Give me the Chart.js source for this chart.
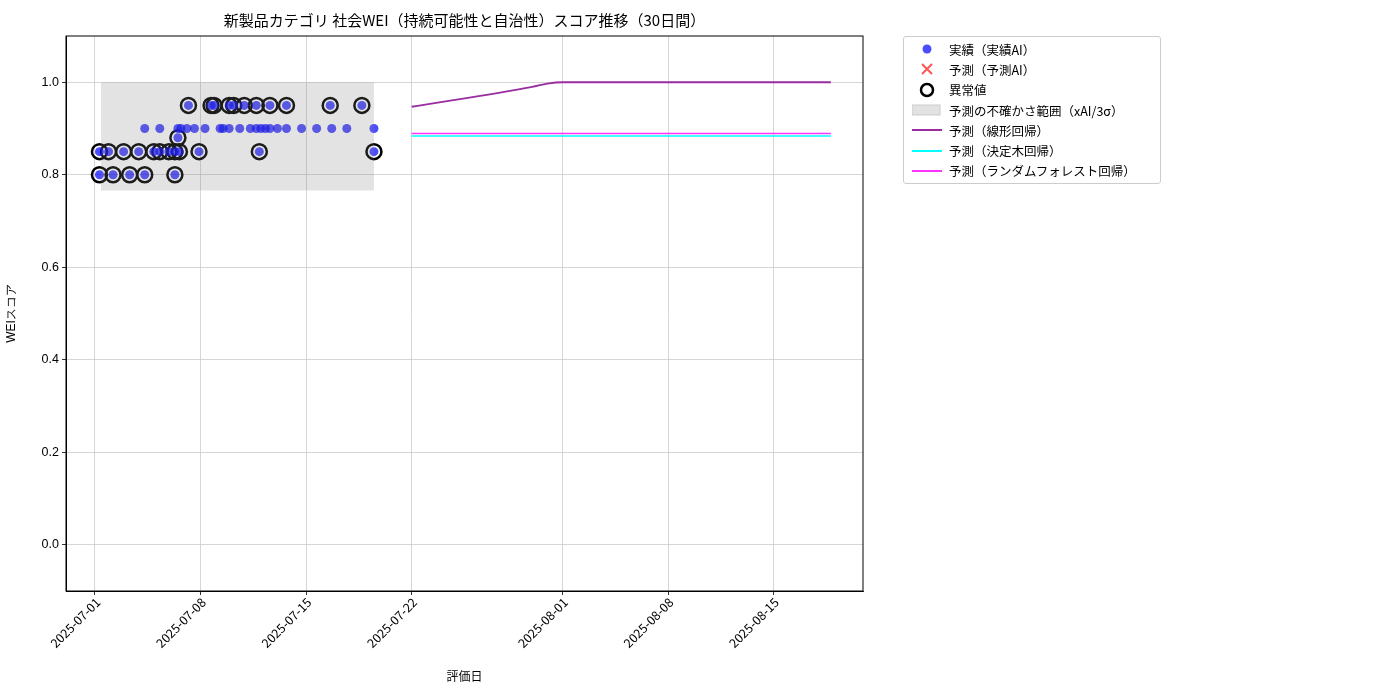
<!DOCTYPE html><html><head><meta charset="utf-8">
<script src="https://cdn.jsdelivr.net/npm/chart.js@4"></script>
<style>body{margin:0;width:1400px;height:700px;position:relative;font-family:"Noto Sans CJK JP",sans-serif;background:#fff}
#t{position:absolute;top:9px;left:66px;width:797px;text-align:center;font-size:15px}
#lg{position:absolute;left:903px;top:36px;width:256px;border:1px solid #ccc;border-radius:3px;font-size:12.5px;padding:2px 0}
#lg div{height:20.3px;display:flex;align-items:center}#lg span.s{width:45px;display:inline-flex;justify-content:center;margin-right:0px}
</style></head><body>
<canvas id="c" width="1400" height="700"></canvas>
<div id="t">新製品カテゴリ 社会WEI（持続可能性と自治性）スコア推移（30日間）</div>
<div id="lg">
<div><span class="s"><svg width="12" height="12"><circle cx="6" cy="6" r="4.5" fill="rgba(0,0,255,0.7)"/></svg></span>実績（実績AI）</div>
<div><span class="s"><svg width="14" height="14"><path d="M2 2L12 12M12 2L2 12" stroke="#f55" stroke-width="2"/></svg></span>予測（予測AI）</div>
<div><span class="s"><svg width="16" height="16"><circle cx="8" cy="8" r="6" fill="none" stroke="#000" stroke-width="2.5"/></svg></span>異常値</div>
<div><span class="s"><svg width="30" height="12"><rect x="0" y="1" width="28" height="10" fill="#e2e2e2" stroke="#ccc"/></svg></span>予測の不確かさ範囲（xAI/3σ）</div>
<div><span class="s"><svg width="30" height="4"><line x1="0" y1="2" x2="30" y2="2" stroke="#992c9e" stroke-width="2"/></svg></span>予測（線形回帰）</div>
<div><span class="s"><svg width="30" height="4"><line x1="0" y1="2" x2="30" y2="2" stroke="#00ffff" stroke-width="2"/></svg></span>予測（決定木回帰）</div>
<div><span class="s"><svg width="30" height="4"><line x1="0" y1="2" x2="30" y2="2" stroke="#ff33ff" stroke-width="2"/></svg></span>予測（ランダムフォレスト回帰）</div>
</div>
<script>
// days since 2025-07-01
const actualDays=[6.2,7.7,7.9,8.9,9.2,9.9,10.7,11.6,12.7,15.6,17.7,3.3,4.3,5.5,5.7,6.1,6.6,7.3,8.3,8.5,8.9,9.6,10.3,10.7,11.0,11.3,11.6,12.1,12.7,13.7,14.7,15.7,16.7,18.5,5.5,0.3,0.9,1.9,2.9,3.9,4.3,4.9,5.3,5.6,6.9,10.9,18.5,0.3,1.2,2.3,3.3,5.3];
const actualVals=[0.95,0.95,0.95,0.95,0.95,0.95,0.95,0.95,0.95,0.95,0.95,0.9,0.9,0.9,0.9,0.9,0.9,0.9,0.9,0.9,0.9,0.9,0.9,0.9,0.9,0.9,0.9,0.9,0.9,0.9,0.9,0.9,0.9,0.9,0.88,0.85,0.85,0.85,0.85,0.85,0.85,0.85,0.85,0.85,0.85,0.85,0.85,0.8,0.8,0.8,0.8,0.8];
const outlierIdx=[0,1,2,3,4,5,6,7,8,9,10,34,35,36,37,38,39,40,41,42,43,44,45,46,47,48,49,50,51];
const bandDays=[0.4,18.5], bandLow=[0.766,0.766], bandHigh=[1.0,1.0];
const linDays=[21,29,30,31,48.8], linVals=[0.947,0.99,0.997,1.0,1.0];
const treeDays=[21,48.8], treeVals=[0.884,0.884];
const rfDays=[21,48.8], rfVals=[0.889,0.889];
const tickDays=[0,7,14,21,31,38,45];
const tickLabels=['2025-07-01','2025-07-08','2025-07-15','2025-07-22','2025-08-01','2025-08-08','2025-08-15'];
const yTicks=[0,0.2,0.4,0.6,0.8,1.0];
const xy=(a,b)=>a.map((v,i)=>({x:v,y:b[i]}));
new Chart(document.getElementById('c'),{data:{datasets:[
{type:'line',data:xy(bandDays,bandLow),borderWidth:0,pointRadius:0,fill:false},
{type:'line',data:xy(bandDays,bandHigh),borderWidth:0,pointRadius:0,fill:'-1',backgroundColor:'rgba(128,128,128,0.22)'},
{type:'scatter',data:xy(actualDays,actualVals),pointRadius:4.5,backgroundColor:'rgba(0,0,255,0.7)',borderWidth:0},
{type:'scatter',data:outlierIdx.map(i=>({x:actualDays[i],y:actualVals[i]})),pointRadius:7.5,backgroundColor:'transparent',borderColor:'#000',borderWidth:2.5},
{type:'line',data:xy(linDays,linVals),borderColor:'#992c9e',borderWidth:1.8,pointRadius:0,cubicInterpolationMode:'monotone'},
{type:'line',data:xy(treeDays,treeVals),borderColor:'#00ffff',borderWidth:1.5,pointRadius:0},
{type:'line',data:xy(rfDays,rfVals),borderColor:'#ff33ff',borderWidth:1.5,pointRadius:0}
]},options:{responsive:false,animation:false,layout:{padding:{top:36,right:537,left:0,bottom:0}},
plugins:{legend:{display:false},tooltip:{enabled:false}},
scales:{x:{type:'linear',min:-1.92,max:50.93,afterFit:s=>{s.height=109},
afterBuildTicks:s=>{s.ticks=tickDays.map(v=>({value:v}))},
ticks:{display:false},
grid:{color:'#ccc',lineWidth:0.8,tickColor:'#000',tickLength:4},border:{color:'#000'}},
y:{min:-0.1,max:1.1,afterFit:s=>{s.width=66},afterBuildTicks:s=>{s.ticks=yTicks.map(v=>({value:v}))},
ticks:{color:'#000',font:{size:12.5},callback:v=>v.toFixed(1)},
grid:{color:'#ccc',lineWidth:0.8,tickColor:'#000',tickLength:4},border:{color:'#000'},
title:{display:true,text:'WEIスコア',color:'#000',font:{size:12}}}}},
plugins:[{id:'box',afterDraw(c){const a=c.chartArea,g=c.ctx,x=c.scales.x;g.save();g.strokeStyle='#000';g.lineWidth=1;g.strokeRect(a.left,a.top,a.right-a.left,a.bottom-a.top);
g.fillStyle='#000';g.font='12.5px "Noto Sans CJK JP"';
tickDays.forEach((d,i)=>{const px=x.getPixelForValue(d);g.save();g.translate(px+3,a.bottom+9);g.rotate(-Math.PI/4);g.textAlign='right';g.textBaseline='middle';g.fillText(tickLabels[i],0,0);g.restore();});
g.textAlign='center';g.textBaseline='middle';g.font='12px "Noto Sans CJK JP"';g.fillText('評価日',(a.left+a.right)/2,676);
g.restore();}}]});
</script></body></html>
